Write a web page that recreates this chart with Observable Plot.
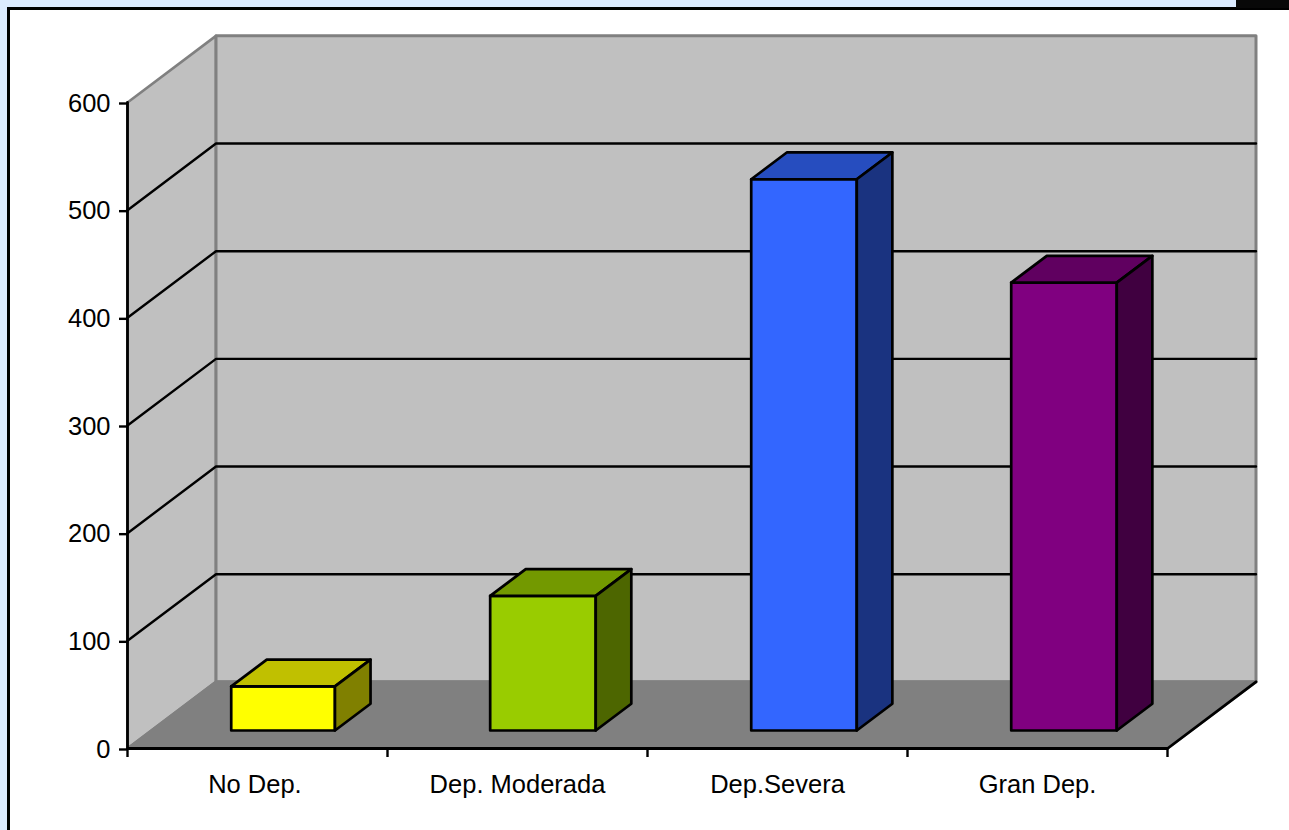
<!DOCTYPE html>
<html>
<head>
<meta charset="utf-8">
<script src="https://cdn.jsdelivr.net/npm/d3@7"></script>
<script src="https://cdn.jsdelivr.net/npm/@observablehq/plot@0.6"></script>
<style>
html,body{margin:0;padding:0;background:#dcebff;overflow:hidden}
#page{position:relative;width:1289px;height:830px;overflow:hidden}
#sheet{position:absolute;left:7px;top:7px;width:1282px;height:823px;box-sizing:border-box;background:#fff;border-left:3px solid #000;border-top:3px solid #000}
#corner{position:absolute;left:1236px;top:0;width:53px;height:8px;background:#080808}
#chart{position:absolute;left:-0.5px;top:-0.5px}
</style>
</head>
<body>
<div id="page"><div id="sheet"></div><div id="corner"></div><div id="chart"></div></div>
<script>
const categories = ["No Dep.", "Dep. Moderada", "Dep.Severa", "Gran Dep."];
const values = [41, 125, 512, 416];
const frontColors = ["#ffff00", "#99cc00", "#3366ff", "#800080"];
const topColors = ["#c0c000", "#739900", "#264dbf", "#600060"];
const sideColors = ["#808000", "#4d6600", "#1a3380", "#400040"];
const yTicks = [0, 100, 200, 300, 400, 500, 600];
const gridValues = [100, 200, 300, 400, 500];

// oblique projection of the 3-D chart box onto the x (category) and y (value) scales
const depthX = 88.5 / 260, depthY = 61.9;
const P = (c, v, d) => ({x: c + d * depthX, y: v + d * depthY});
const poly = (pts, o) => Plot.line([...pts, pts[0]].map(p => P(...p)), {x: "x", y: "y", strokeLinejoin: "round", ...o});
const path = (pts, o) => Plot.line(pts.map(p => P(...p)), {x: "x", y: "y", ...o});

const n = categories.length, vMax = 600;
const wallStroke = "#808080";
const marks = [
  poly([[0,0,0],[0,vMax,0],[0,vMax,1],[0,0,1]], {fill:"#c0c0c0", stroke:wallStroke, strokeWidth:2.6}),
  poly([[0,0,1],[0,vMax,1],[n,vMax,1],[n,0,1]], {fill:"#c0c0c0", stroke:wallStroke, strokeWidth:3}),
  poly([[0,0,0],[0,0,1],[n,0,1],[n,0,0]], {fill:"#808080", stroke:wallStroke, strokeWidth:2.6}),
  ...gridValues.map(v => path([[0,v,0],[0,v,1],[n,v,1]], {stroke:"#000", strokeWidth:2.4})),
  path([[0,vMax,0],[0,0,0],[n,0,0],[n,0,1]], {stroke:"#000", strokeWidth:2.8}),
];

const d0 = 0.27, d1 = 0.672, barW = 0.406, barC = 0.51;
// the original snapped some bar edges to whole pixels: [left, right] correction in category units
const edgeNudge = [[0, -0.007], [-0.004, -0.004], [0, 0], [0, 0]];
values.forEach((v, i) => {
  const a = i + barC - barW / 2 + edgeNudge[i][0], b = i + barC + barW / 2 + edgeNudge[i][1];
  const common = {stroke:"#000", strokeWidth:2.7, strokeLinejoin:"round"};
  marks.push(
    poly([[a,0,d0],[a,v,d0],[b,v,d0],[b,0,d0]], {fill:frontColors[i], ...common}),
    poly([[a,v,d0],[a,v,d1],[b,v,d1],[b,v,d0]], {fill:topColors[i], ...common}),
    poly([[b,0,d0],[b,v,d0],[b,v,d1],[b,0,d1]], {fill:sideColors[i], ...common})
  );
});

const labelPositions = [0.49, 1.5, 2.5, 3.5];
marks.push(
  Plot.axisY({ticks: yTicks, tickSize: 8, tickPadding: 9, fontSize: 25.5, dy: 1, label: null, stroke: "#000", strokeWidth: 2.4, fill: "#000"}),
  Plot.axisX({ticks: d3.range(n + 1), tickSize: 9, tickFormat: () => "", label: null, stroke: "#000", strokeWidth: 2.4}),
  Plot.axisX({ticks: labelPositions, tickSize: 0, tickPadding: 26, fontSize: 25.5,
    tickFormat: t => categories[Math.floor(t)], label: null, fill: "#000"})
);

const chart = Plot.plot({
  width: 1289, height: 830,
  marginLeft: 127, marginRight: 122, marginTop: 102, marginBottom: 82,
  x: {type: "linear", domain: [0, n]},
  y: {type: "linear", domain: [0, vMax]},
  style: {background: "transparent", overflow: "visible", fontFamily: "'Liberation Sans', Arial, sans-serif"},
  marks
});
document.getElementById("chart").appendChild(chart);
</script>
</body>
</html>
